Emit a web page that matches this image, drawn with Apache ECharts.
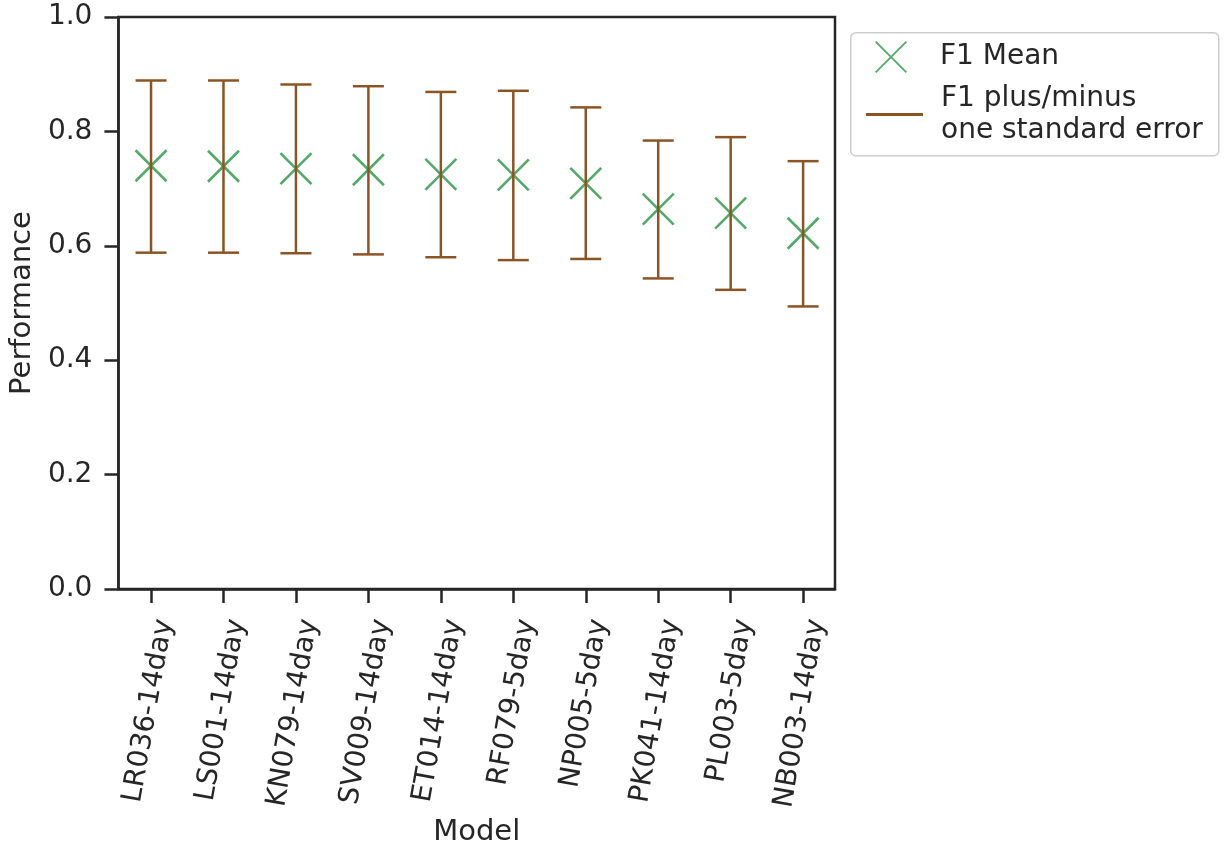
<!DOCTYPE html>
<html>
<head>
<meta charset="utf-8">
<script src="https://cdn.jsdelivr.net/npm/echarts@6/dist/echarts.min.js"></script>
<style>
  html, body { margin: 0; padding: 0; background: #ffffff; }
  #chart { width: 1225px; height: 852px; }
</style>
</head>
<body>
<div id="chart"></div>
<script>
// ---- data ----
var categories = ['LR036-14day', 'LS001-14day', 'KN079-14day', 'SV009-14day', 'ET014-14day',
                  'RF079-5day', 'NP005-5day', 'PK041-14day', 'PL003-5day', 'NB003-14day'];
var f1Mean  = [0.740, 0.739, 0.735, 0.733, 0.725, 0.724, 0.709, 0.664, 0.657, 0.622];
var f1Upper = [0.889, 0.889, 0.882, 0.879, 0.869, 0.871, 0.842, 0.784, 0.790, 0.748];
var f1Lower = [0.588, 0.588, 0.587, 0.585, 0.580, 0.575, 0.577, 0.543, 0.523, 0.494];
var yTicks  = [0.0, 0.2, 0.4, 0.6, 0.8, 1.0];

var meanName = 'F1 Mean';
var errName  = 'F1 plus/minus\none standard error';

var TEXT = '#262626';
var GREEN = '#55a868';
var BROWN = '#8b5424';
var FONT = 'DejaVu Sans';

var catIdx = categories.map(function (c, i) { return i; });
var meanData = f1Mean.map(function (v, i) { return [i, v]; });
var errData = f1Lower.map(function (v, i) { return [i, v, f1Upper[i]]; });

var xIconPath = 'path://M0,4L4,0L100,96L96,100Z M96,0L100,4L4,100L0,96Z';

var chart = echarts.init(document.getElementById('chart'), null, { renderer: 'canvas' });

var option = {
  backgroundColor: '#ffffff',
  animation: false,
  textStyle: { fontFamily: FONT },
  grid: {
    left: 116, right: 390, top: 17, bottom: 263,
    show: true, borderColor: TEXT, borderWidth: 2.5, backgroundColor: 'transparent'
  },
  xAxis: {
    type: 'value',
    min: -0.45, max: 9.44,
    name: 'Model',
    nameLocation: 'middle',
    nameGap: 229,
    nameTextStyle: { fontSize: 29, color: TEXT, fontFamily: FONT },
    splitLine: { show: false },
    axisLine: { show: true, onZero: false, lineStyle: { color: TEXT, width: 2.5 } },
    axisTick: { show: true, length: 14, lineStyle: { color: TEXT, width: 2.5 }, customValues: catIdx },
    axisLabel: {
      show: true,
      customValues: catIdx,
      rotate: 80,
      verticalAlign: 'top',
      margin: 28,
      fontSize: 28,
      color: TEXT,
      fontFamily: FONT,
      formatter: function (v) { return categories[Math.round(v)]; }
    }
  },
  yAxis: {
    type: 'value',
    min: 0, max: 1, interval: 0.2,
    name: 'Performance',
    nameLocation: 'middle',
    nameGap: 76,
    nameTextStyle: { fontSize: 29, color: TEXT, fontFamily: FONT },
    splitLine: { show: false },
    axisLine: { show: true, onZero: false, lineStyle: { color: TEXT, width: 2.5 } },
    axisTick: { show: true, length: 14, lineStyle: { color: TEXT, width: 2.5 } },
    axisLabel: {
      margin: 26, fontSize: 28, color: TEXT, fontFamily: FONT,
      formatter: function (v) { return v.toFixed(1); }
    }
  },
  graphic: [{
    type: 'rect',
    left: 850, top: 32,
    shape: { width: 368, height: 123, r: 5 },
    style: { fill: '#ffffff', stroke: '#cccccc', lineWidth: 1.5 },
    z: 1
  }],
  legend: [{
    data: [{ name: meanName, icon: xIconPath }],
    left: 870, top: 36,
    orient: 'vertical',
    itemWidth: 32, itemHeight: 32,
    selectedMode: false,
    formatter: function (n) { return '{p|}{t|' + n + '}'; },
    textStyle: {
      fontSize: 28, color: TEXT, fontFamily: FONT,
      rich: { p: { width: 28 }, t: { fontSize: 28, color: TEXT, fontFamily: FONT } }
    },
    z: 5
  }, {
    data: [{ name: errName, icon: 'rect' }],
    left: 861, top: 77,
    orient: 'vertical',
    itemWidth: 57, itemHeight: 3,
    selectedMode: false,
    formatter: function (n) {
      return n.split('\n').map(function (s) { return '{p|}{t|' + s + '}'; }).join('\n');
    },
    textStyle: {
      fontSize: 28, color: TEXT, fontFamily: FONT, lineHeight: 32.5,
      rich: {
        p: { width: 13, lineHeight: 32.5 },
        t: { fontSize: 28, color: TEXT, fontFamily: FONT, lineHeight: 32.5 }
      }
    },
    z: 5
  }],
  series: [{
    name: meanName,
    type: 'custom',
    data: meanData,
    itemStyle: { color: GREEN },
    z: 2,
    encode: { x: 0, y: 1 },
    renderItem: function (params, api) {
      var p = api.coord([api.value(0), api.value(1)]);
      var h = 15.5;
      var st = { stroke: GREEN, lineWidth: 2.6, fill: null };
      return {
        type: 'group',
        children: [
          { type: 'line', shape: { x1: p[0] - h, y1: p[1] - h, x2: p[0] + h, y2: p[1] + h }, style: st },
          { type: 'line', shape: { x1: p[0] - h, y1: p[1] + h, x2: p[0] + h, y2: p[1] - h }, style: st }
        ]
      };
    }
  }, {
    name: errName,
    type: 'custom',
    data: errData,
    itemStyle: { color: BROWN },
    z: 3,
    encode: { x: 0, y: [1, 2] },
    renderItem: function (params, api) {
      var x = api.value(0);
      var lo = api.coord([x, api.value(1)]);
      var hi = api.coord([x, api.value(2)]);
      var w = 15.5;
      var st = { stroke: BROWN, lineWidth: 2.5, fill: null };
      return {
        type: 'group',
        children: [
          { type: 'line', shape: { x1: hi[0], y1: hi[1], x2: lo[0], y2: lo[1] }, style: st },
          { type: 'line', shape: { x1: hi[0] - w, y1: hi[1], x2: hi[0] + w, y2: hi[1] }, style: st },
          { type: 'line', shape: { x1: lo[0] - w, y1: lo[1], x2: lo[0] + w, y2: lo[1] }, style: st }
        ]
      };
    }
  }]
};

chart.setOption(option);
</script>
</body>
</html>
